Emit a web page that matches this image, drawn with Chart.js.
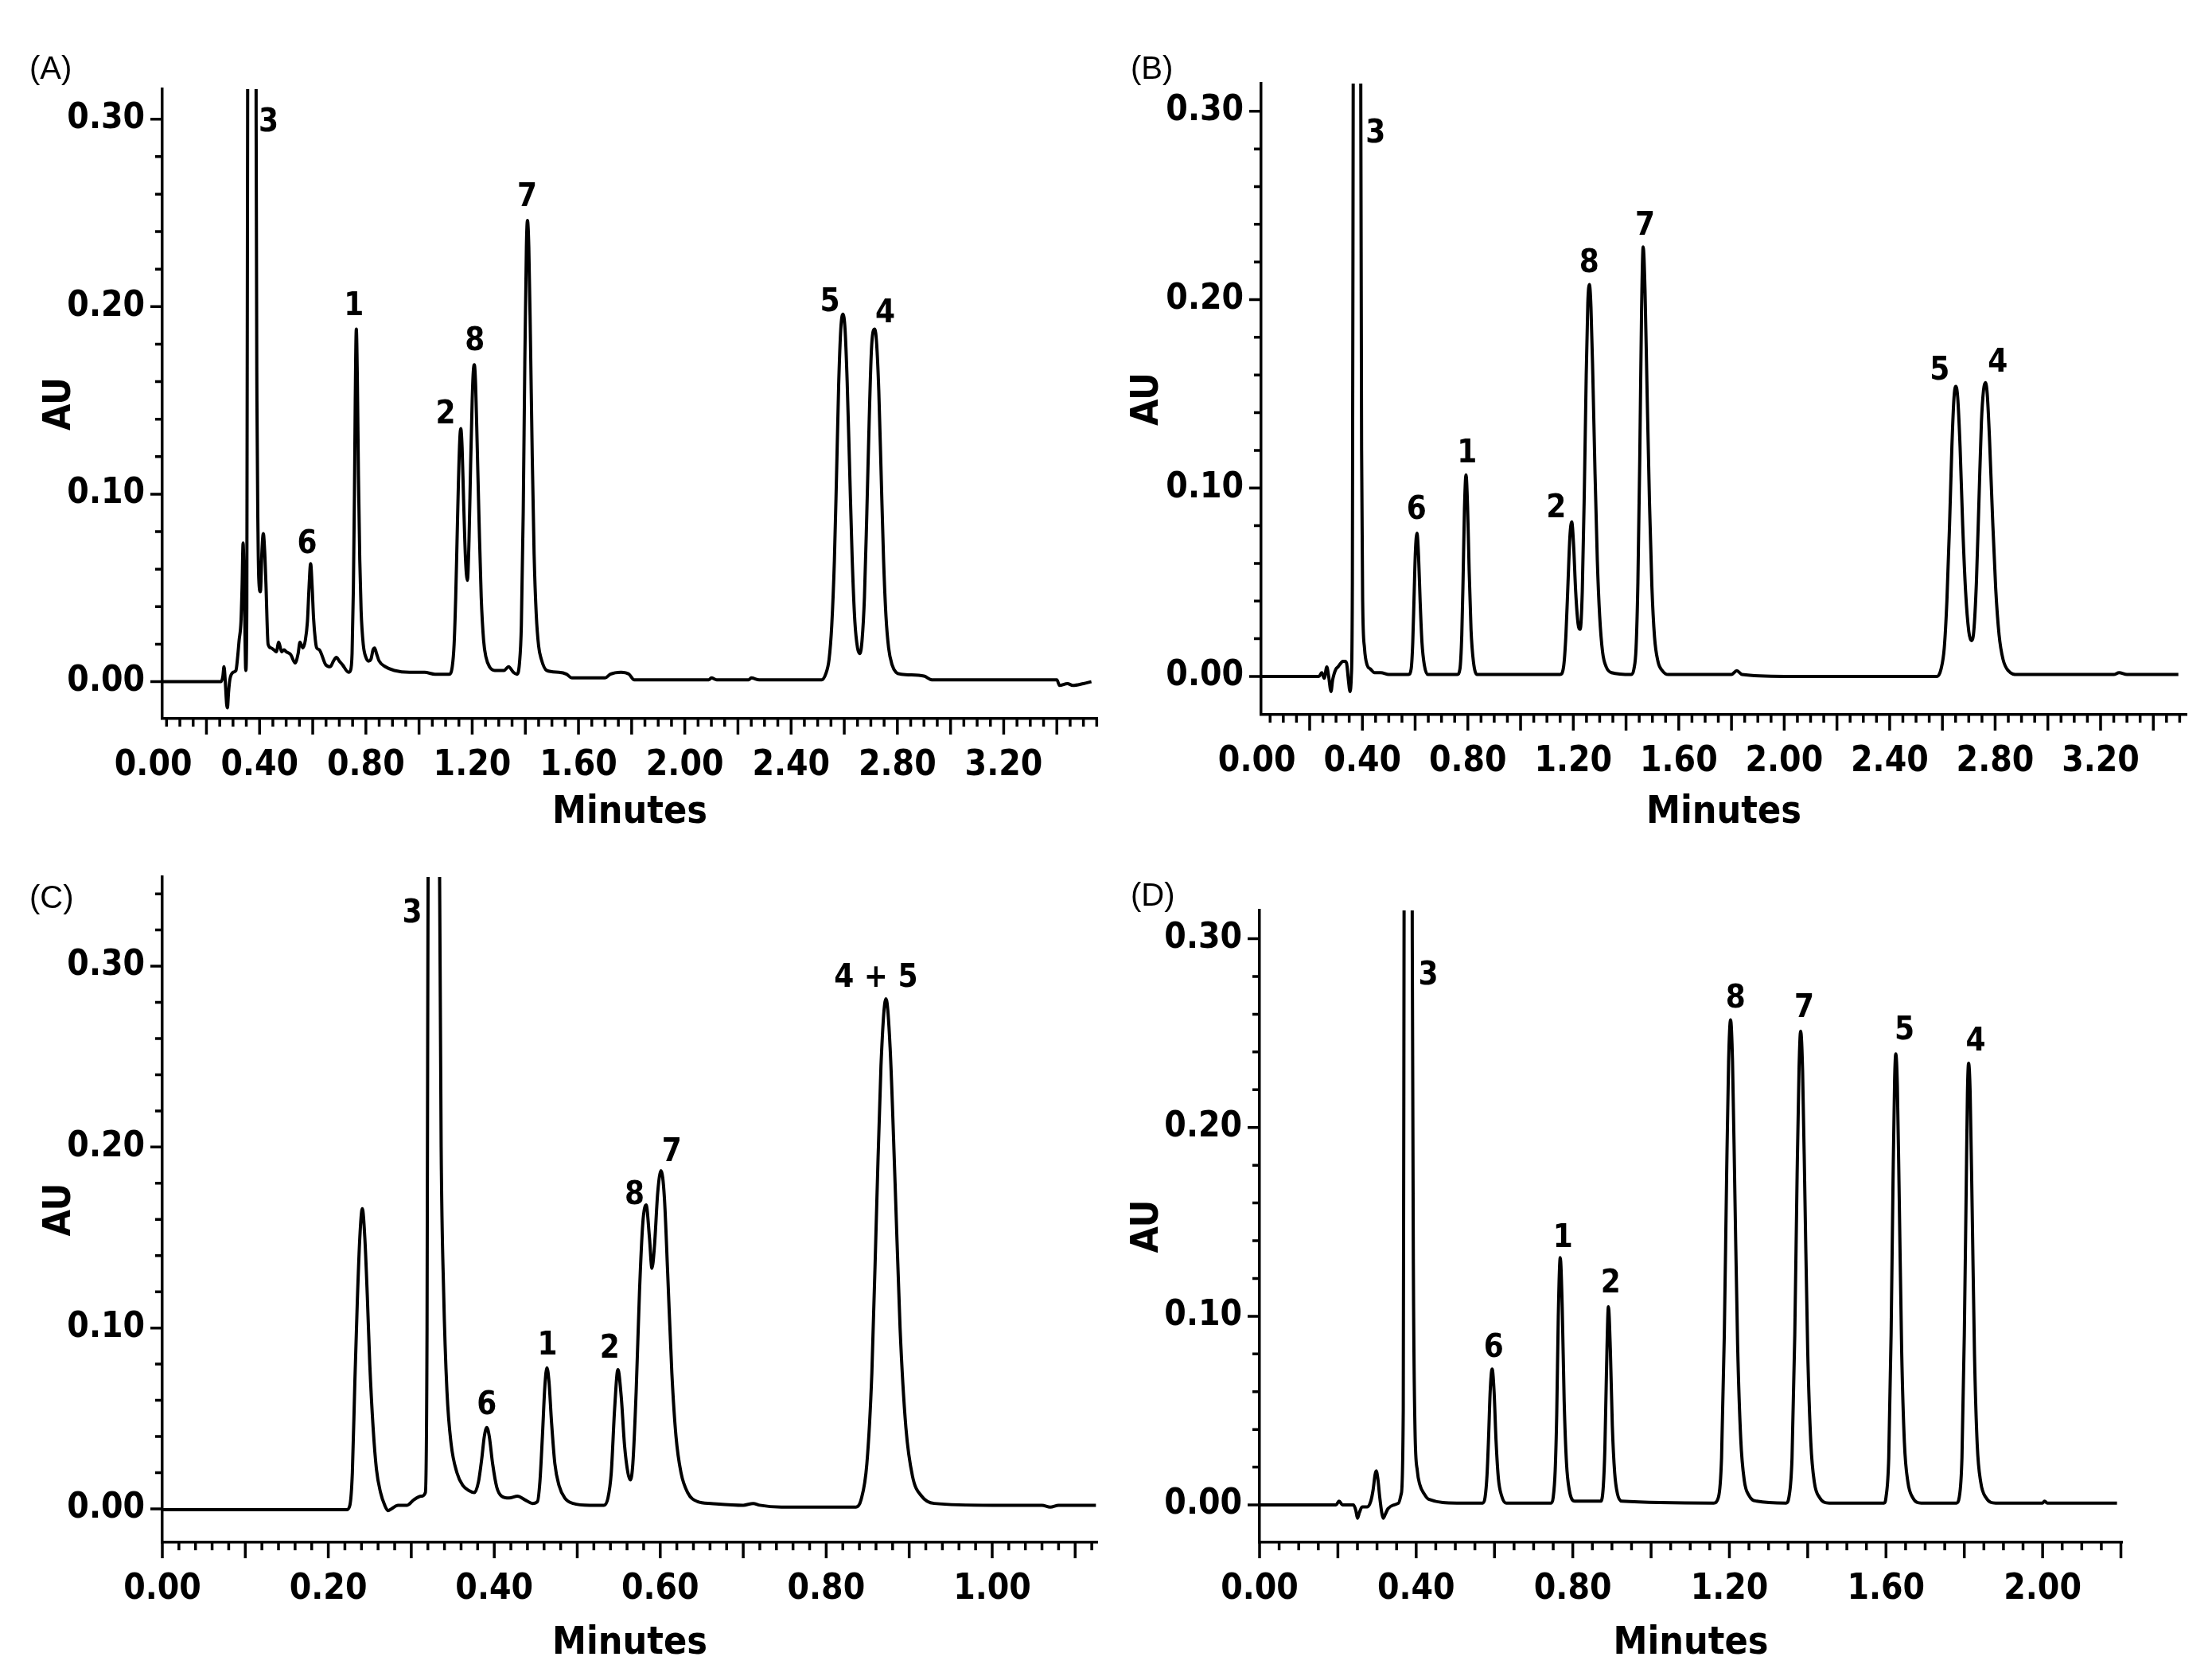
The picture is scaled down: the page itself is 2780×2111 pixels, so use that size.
<!DOCTYPE html>
<html lang="en">
<head>
<meta charset="utf-8">
<title>Chromatograms (A)-(D)</title>
<script src="https://cdn.jsdelivr.net/npm/chart.js@4"></script>
<style>
  html, body { margin: 0; padding: 0; background: #fff; }
  body { width: 2780px; height: 2111px; position: relative; overflow: hidden; }
  .panel { position: absolute; }
  .tag { position: absolute; font: 40px "Liberation Sans", Arial, sans-serif; line-height: 1; color: #000; }
</style>
</head>
<body>
<div class="panel" style="left:0;top:0;width:1390px;height:1060px"><canvas id="chartA"></canvas></div>
<div class="panel" style="left:1390px;top:0;width:1390px;height:1060px"><canvas id="chartB"></canvas></div>
<div class="panel" style="left:0;top:1060px;width:1390px;height:1051px"><canvas id="chartC"></canvas></div>
<div class="panel" style="left:1390px;top:1060px;width:1390px;height:1051px"><canvas id="chartD"></canvas></div>
<div class="tag" style="left:37px;top:65px">(A)</div>
<div class="tag" style="left:1421px;top:65px">(B)</div>
<div class="tag" style="left:37px;top:1107px">(C)</div>
<div class="tag" style="left:1421px;top:1104px">(D)</div>
<script>
// traced chromatograms: retention time (min) and absorbance (AU)
const timeA = [
  0.034, 0.255, 0.262, 0.266, 0.271, 0.276, 0.279, 0.283, 0.288, 0.300,
  0.311, 0.318, 0.323, 0.330, 0.334, 0.338, 0.341, 0.344, 0.348, 0.352,
  0.355, 0.357, 0.371, 0.385, 0.387, 0.390, 0.394, 0.397, 0.403, 0.409,
  0.414, 0.419, 0.424, 0.432, 0.443, 0.454, 0.463, 0.472, 0.483, 0.492,
  0.500, 0.517, 0.534, 0.545, 0.552, 0.563, 0.572, 0.580, 0.586, 0.592,
  0.598, 0.603, 0.610, 0.615, 0.625, 0.632, 0.649, 0.666, 0.678, 0.689,
  0.700, 0.712, 0.735, 0.742, 0.748, 0.753, 0.757, 0.760, 0.764, 0.768,
  0.772, 0.777, 0.782, 0.790, 0.800, 0.810, 0.819, 0.827, 0.833, 0.840,
  0.850, 0.873, 0.907, 0.964, 1.021, 1.060, 1.113, 1.125, 1.132, 1.138,
  1.143, 1.148, 1.153, 1.157, 1.162, 1.168, 1.175, 1.182, 1.188, 1.194,
  1.200, 1.204, 1.208, 1.213, 1.219, 1.226, 1.234, 1.243, 1.252, 1.265,
  1.285, 1.320, 1.337, 1.355, 1.368, 1.378, 1.385, 1.392, 1.398, 1.404,
  1.408, 1.413, 1.419, 1.426, 1.433, 1.441, 1.450, 1.460, 1.480, 1.526,
  1.555, 1.575, 1.700, 1.720, 1.760, 1.790, 1.810, 2.090, 2.100, 2.120,
  2.240, 2.250, 2.280, 2.515, 2.530, 2.543, 2.553, 2.563, 2.571, 2.579,
  2.587, 2.595, 2.603, 2.611, 2.620, 2.630, 2.640, 2.650, 2.659, 2.667,
  2.676, 2.685, 2.694, 2.702, 2.709, 2.715, 2.722, 2.730, 2.739, 2.748,
  2.757, 2.767, 2.780, 2.795, 2.815, 2.900, 2.930, 3.400, 3.410, 3.440,
  3.460, 3.500, 3.530
];
const auA = [
  0, 0, 0.003, 0.008, 0, -0.012, -0.014, -0.006, 0.001, 0.005,
  0.006, 0.014, 0.022, 0.032, 0.050, 0.074, 0.060, 0.035, 0.006, 0.040,
  0.300, 0.600, 0.900, 0.600, 0.300, 0.150, 0.080, 0.055, 0.048, 0.070,
  0.079, 0.070, 0.052, 0.020, 0.018, 0.017, 0.016, 0.021, 0.016, 0.017,
  0.016, 0.0145, 0.010, 0.015, 0.021, 0.018, 0.022, 0.032, 0.050, 0.063,
  0.050, 0.034, 0.022, 0.018, 0.017, 0.015, 0.009, 0.008, 0.011, 0.013,
  0.011, 0.009, 0.005, 0.006, 0.015, 0.050, 0.100, 0.150, 0.188, 0.160,
  0.110, 0.065, 0.038, 0.020, 0.013, 0.011, 0.012, 0.017, 0.018, 0.015,
  0.011, 0.008, 0.006, 0.005, 0.005, 0.004, 0.004, 0.008, 0.020, 0.045,
  0.075, 0.105, 0.128, 0.135, 0.125, 0.095, 0.065, 0.054, 0.075, 0.115,
  0.150, 0.165, 0.169, 0.158, 0.125, 0.085, 0.045, 0.022, 0.013, 0.008,
  0.006, 0.006, 0.008, 0.005, 0.004, 0.010, 0.030, 0.090, 0.170, 0.232,
  0.246, 0.232, 0.185, 0.120, 0.068, 0.036, 0.019, 0.012, 0.006, 0.005,
  0.004, 0.002, 0.002, 0.004, 0.005, 0.004, 0.001, 0.001, 0.002, 0.001,
  0.001, 0.002, 0.001, 0.001, 0.004, 0.012, 0.030, 0.065, 0.110, 0.158,
  0.188, 0.196, 0.188, 0.160, 0.115, 0.065, 0.032, 0.018, 0.015, 0.022,
  0.045, 0.090, 0.140, 0.176, 0.187, 0.188, 0.180, 0.155, 0.110, 0.065,
  0.035, 0.018, 0.009, 0.005, 0.004, 0.003, 0.001, 0.001, -0.002, -0.001,
  -0.002, -0.001, 0
];

const timeB = [
  0.016, 0.235, 0.246, 0.255, 0.265, 0.272, 0.281, 0.287, 0.292, 0.300,
  0.307, 0.318, 0.326, 0.334, 0.340, 0.347, 0.353, 0.358, 0.362, 0.365,
  0.368, 0.380, 0.391, 0.394, 0.397, 0.401, 0.408, 0.418, 0.430, 0.446,
  0.470, 0.500, 0.575, 0.585, 0.591, 0.596, 0.601, 0.607, 0.613, 0.619,
  0.626, 0.635, 0.648, 0.760, 0.770, 0.777, 0.782, 0.787, 0.793, 0.799,
  0.805, 0.812, 0.821, 0.835, 1.150, 1.163, 1.172, 1.180, 1.187, 1.194,
  1.201, 1.209, 1.218, 1.226, 1.234, 1.242, 1.249, 1.255, 1.261, 1.267,
  1.274, 1.282, 1.291, 1.300, 1.311, 1.325, 1.345, 1.420, 1.430, 1.438,
  1.445, 1.452, 1.459, 1.465, 1.472, 1.480, 1.489, 1.498, 1.508, 1.521,
  1.538, 1.560, 1.800, 1.820, 1.840, 2.000, 2.580, 2.595, 2.607, 2.617,
  2.627, 2.636, 2.644, 2.651, 2.658, 2.667, 2.677, 2.688, 2.700, 2.710,
  2.719, 2.729, 2.739, 2.748, 2.756, 2.763, 2.770, 2.779, 2.790, 2.802,
  2.815, 2.830, 2.850, 2.885, 3.250, 3.270, 3.300, 3.495
];
const auB = [
  0, 0, 0.002, -0.001, 0.005, 0, -0.008, -0.002, 0.001, 0.004,
  0.005, 0.007, 0.008, 0.008, 0.007, -0.002, -0.008, 0, 0.050, 0.300,
  0.600, 0.900, 0.600, 0.300, 0.120, 0.040, 0.015, 0.006, 0.004, 0.002,
  0.002, 0.001, 0.001, 0.004, 0.018, 0.042, 0.066, 0.076, 0.064, 0.040,
  0.018, 0.006, 0.001, 0.001, 0.004, 0.022, 0.052, 0.088, 0.107, 0.090,
  0.056, 0.025, 0.008, 0.001, 0.001, 0.005, 0.022, 0.050, 0.074, 0.082,
  0.070, 0.045, 0.028, 0.025, 0.045, 0.100, 0.160, 0.198, 0.208, 0.196,
  0.160, 0.110, 0.062, 0.032, 0.013, 0.005, 0.002, 0.001, 0.004, 0.015,
  0.050, 0.115, 0.195, 0.228, 0.205, 0.150, 0.092, 0.048, 0.021, 0.008,
  0.003, 0.001, 0.001, 0.003, 0.001, 0, 0, 0.004, 0.015, 0.040,
  0.080, 0.122, 0.148, 0.154, 0.148, 0.122, 0.080, 0.045, 0.024, 0.019,
  0.024, 0.050, 0.095, 0.135, 0.152, 0.156, 0.150, 0.125, 0.085, 0.047,
  0.022, 0.009, 0.003, 0.001, 0.001, 0.002, 0.001, 0.001
];

const timeC = [
  0, 0.222, 0.226, 0.229, 0.232, 0.235, 0.238, 0.241, 0.244, 0.247,
  0.250, 0.254, 0.258, 0.263, 0.268, 0.272, 0.276, 0.284, 0.295, 0.303,
  0.312, 0.317, 0.319, 0.3205, 0.327, 0.3335, 0.336, 0.339, 0.343, 0.348,
  0.355, 0.362, 0.370, 0.376, 0.381, 0.385, 0.388, 0.391, 0.394, 0.398,
  0.403, 0.409, 0.418, 0.428, 0.437, 0.446, 0.452, 0.455, 0.458, 0.461,
  0.4635, 0.466, 0.469, 0.473, 0.478, 0.485, 0.495, 0.515, 0.532, 0.537,
  0.541, 0.545, 0.549, 0.553, 0.557, 0.561, 0.564, 0.567, 0.571, 0.575,
  0.579, 0.583, 0.587, 0.590, 0.593, 0.597, 0.601, 0.605, 0.609, 0.614,
  0.619, 0.625, 0.633, 0.645, 0.661, 0.700, 0.712, 0.720, 0.746, 0.836,
  0.842, 0.849, 0.855, 0.861, 0.866, 0.872, 0.877, 0.883, 0.889, 0.896,
  0.904, 0.915, 0.930, 1.000, 1.060, 1.070, 1.080, 1.125
];
const auC = [
  -0.0005, -0.0005, 0.002, 0.020, 0.070, 0.115, 0.150, 0.166, 0.150, 0.118,
  0.080, 0.045, 0.022, 0.009, 0.002, -0.001, 0, 0.002, 0.002, 0.005,
  0.007, 0.009, 0.100, 0.400, 0.600, 0.400, 0.200, 0.120, 0.065, 0.036,
  0.020, 0.013, 0.010, 0.009, 0.015, 0.028, 0.040, 0.045, 0.040, 0.025,
  0.012, 0.007, 0.006, 0.007, 0.005, 0.003, 0.004, 0.015, 0.040, 0.068,
  0.078, 0.070, 0.048, 0.025, 0.013, 0.006, 0.003, 0.002, 0.002, 0.006,
  0.020, 0.055, 0.077, 0.062, 0.035, 0.020, 0.016, 0.025, 0.065, 0.120,
  0.158, 0.168, 0.150, 0.133, 0.145, 0.175, 0.187, 0.172, 0.130, 0.075,
  0.040, 0.020, 0.009, 0.004, 0.003, 0.002, 0.003, 0.002, 0.001, 0.001,
  0.005, 0.025, 0.075, 0.170, 0.245, 0.282, 0.255, 0.180, 0.100, 0.045,
  0.018, 0.007, 0.003, 0.002, 0.002, 0.001, 0.002, 0.002
];

const timeD = [
  0, 0.195, 0.203, 0.212, 0.240, 0.246, 0.250, 0.255, 0.262, 0.275,
  0.284, 0.290, 0.295, 0.298, 0.302, 0.307, 0.312, 0.316, 0.321, 0.328,
  0.343, 0.355, 0.362, 0.367, 0.369, 0.371, 0.380, 0.388, 0.390, 0.393,
  0.397, 0.403, 0.409, 0.420, 0.432, 0.504, 0.570, 0.576, 0.581, 0.585,
  0.589, 0.594, 0.599, 0.604, 0.610, 0.618, 0.630, 0.745, 0.750, 0.755,
  0.759, 0.763, 0.768, 0.773, 0.778, 0.784, 0.791, 0.805, 0.872, 0.878,
  0.882, 0.886, 0.891, 0.896, 0.901, 0.907, 0.914, 0.925, 1.160, 1.172,
  1.180, 1.187, 1.193, 1.198, 1.203, 1.208, 1.214, 1.221, 1.229, 1.238,
  1.250, 1.270, 1.345, 1.352, 1.360, 1.367, 1.373, 1.378, 1.382, 1.387,
  1.393, 1.400, 1.408, 1.417, 1.430, 1.455, 1.595, 1.600, 1.607, 1.613,
  1.618, 1.622, 1.625, 1.629, 1.634, 1.640, 1.647, 1.656, 1.668, 1.690,
  1.780, 1.787, 1.794, 1.800, 1.805, 1.808, 1.811, 1.815, 1.820, 1.826,
  1.833, 1.842, 1.855, 1.880, 2.000, 2.005, 2.012, 2.190
];
const auD = [
  0, 0, 0.002, 0, 0, -0.003, -0.007, -0.004, -0.001, -0.001,
  0.002, 0.008, 0.016, 0.018, 0.014, 0.004, -0.004, -0.007, -0.005, -0.002,
  0, 0.001, 0.006, 0.050, 0.300, 0.600, 0.900, 0.600, 0.300, 0.120,
  0.040, 0.018, 0.011, 0.006, 0.003, 0.001, 0.001, 0.004, 0.016, 0.036,
  0.060, 0.072, 0.060, 0.034, 0.014, 0.005, 0.001, 0.001, 0.004, 0.018,
  0.048, 0.100, 0.131, 0.105, 0.055, 0.022, 0.008, 0.002, 0.002, 0.010,
  0.030, 0.070, 0.105, 0.082, 0.042, 0.017, 0.006, 0.002, 0.001, 0.004,
  0.025, 0.090, 0.175, 0.235, 0.257, 0.235, 0.165, 0.085, 0.035, 0.013,
  0.005, 0.002, 0.001, 0.004, 0.025, 0.090, 0.175, 0.232, 0.251, 0.230,
  0.162, 0.082, 0.033, 0.012, 0.004, 0.001, 0.001, 0.004, 0.025, 0.090,
  0.172, 0.225, 0.239, 0.222, 0.160, 0.082, 0.033, 0.012, 0.004, 0.001,
  0.001, 0.004, 0.025, 0.090, 0.170, 0.218, 0.234, 0.218, 0.158, 0.080,
  0.032, 0.012, 0.004, 0.001, 0.001, 0.002, 0.001, 0.001
];

// peak numbers and where they sit (time, AU)
const peakNamesA = ['3', '6', '1', '2', '8', '7', '5', '4'];
const peakTimeA  = [0.434, 0.579, 0.755, 1.100, 1.210, 1.407, 2.546, 2.754];
const peakAuA    = [0.298, 0.073, 0.200, 0.142, 0.181, 0.258, 0.202, 0.196];
const peakNamesB = ['3', '6', '1', '2', '8', '7', '5', '4'];
const peakTimeB  = [0.450, 0.605, 0.797, 1.135, 1.260, 1.472, 2.590, 2.810];
const peakAuB    = [0.288, 0.088, 0.118, 0.089, 0.219, 0.239, 0.162, 0.166];
const peakNamesC = ['3', '6', '1', '2', '8', '7', '4 + 5'];
const peakTimeC  = [0.301, 0.391, 0.464, 0.539, 0.569, 0.614, 0.860];
const peakAuC    = [0.329, 0.057, 0.090, 0.088, 0.173, 0.197, 0.293];
const peakNamesD = ['3', '6', '1', '2', '8', '7', '5', '4'];
const peakTimeD  = [0.431, 0.598, 0.775, 0.897, 1.216, 1.391, 1.647, 1.829];
const peakAuD    = [0.280, 0.083, 0.141, 0.117, 0.268, 0.263, 0.251, 0.245];

// axis tick labels
const minuteTicksAB = [0, 0.4, 0.8, 1.2, 1.6, 2.0, 2.4, 2.8, 3.2];
const minuteTicksC  = [0, 0.2, 0.4, 0.6, 0.8, 1.0];
const minuteTicksD  = [0, 0.4, 0.8, 1.2, 1.6, 2.0];
const auTicks       = [0, 0.1, 0.2, 0.3];

const FONT = '"Liberation Sans Narrow", "DejaVu Sans Condensed", "Liberation Sans", Arial, sans-serif';

// two lengths of tick mark, drawn along the library's scales
const tickMarks = {
  id: 'tickMarks',
  afterDraw(chart, args, o) {
    const { ctx, scales: { x, y } } = chart;
    ctx.save();
    ctx.strokeStyle = '#000';
    ctx.lineWidth = 3.5;
    ctx.beginPath();
    for (let i = 0; i * o.xMinor <= x.max + 1e-9; i++) {
      const v = i * o.xMinor;
      if (v < x.min - 1e-9) continue;
      const px = x.getPixelForValue(v);
      ctx.moveTo(px, x.top);
      ctx.lineTo(px, x.top + (i % o.xEvery === 0 ? 20 : 10));
    }
    for (let i = 0; i * 0.02 <= y.max + 1e-9; i++) {
      const py = y.getPixelForValue(i * 0.02);
      ctx.moveTo(y.right, py);
      ctx.lineTo(y.right - (i % 5 === 0 ? 15 : 9), py);
    }
    ctx.stroke();
    ctx.restore();
  }
};

const peakNames = {
  id: 'peakNames',
  afterDatasetsDraw(chart, args, o) {
    const { ctx, scales: { x, y } } = chart;
    ctx.save();
    ctx.font = 'bold 40px ' + FONT;
    ctx.fillStyle = '#000';
    ctx.textAlign = 'center';
    ctx.textBaseline = 'middle';
    o.names.forEach((n, i) => {
      ctx.fillText(n, x.getPixelForValue(o.time[i]), y.getPixelForValue(o.au[i]));
    });
    ctx.restore();
  }
};

function makeChart(id, p) {
  return new Chart(document.getElementById(id), {
    type: 'line',
    data: {
      datasets: [{
        data: p.time.map((t, i) => ({ x: t, y: p.au[i] })),
        borderColor: '#000',
        borderWidth: 4,
        pointRadius: 0,
        fill: false,
        cubicInterpolationMode: 'monotone'
      }]
    },
    options: {
      responsive: true,
      maintainAspectRatio: false,
      animation: false,
      events: [],
      layout: { padding: { left: 0, top: p.top, right: p.right, bottom: 0 } },
      plugins: {
        legend: { display: false },
        tooltip: { enabled: false },
        tickMarks: { xMinor: p.xMinor, xEvery: p.xEvery },
        peakNames: { names: p.names, time: p.peakTime, au: p.peakAu }
      },
      scales: {
        x: {
          type: 'linear',
          min: p.xMin,
          max: p.xMax,
          afterFit: (s) => { s.height = p.xH; },
          afterBuildTicks: (s) => { s.ticks = p.xTicks.map(v => ({ value: v })); },
          ticks: {
            autoSkip: false, maxRotation: 0, padding: 14, color: '#000',
            font: { family: FONT, size: 44, weight: 'bold' },
            callback: (v) => Number(v).toFixed(2)
          },
          grid: { drawOnChartArea: false, color: 'rgba(0,0,0,0)', tickLength: 19 },
          border: { display: true, color: '#000', width: 3.5 },
          title: {
            display: true, text: 'Minutes', color: '#000',
            font: { family: FONT, size: 48, weight: 'bold' },
            padding: { top: 0, bottom: p.minPad }
          }
        },
        y: {
          type: 'linear',
          min: p.yMin,
          max: p.yMax,
          afterFit: (s) => { s.width = p.yW; },
          afterBuildTicks: (s) => { s.ticks = auTicks.map(v => ({ value: v })); },
          ticks: {
            autoSkip: false, padding: 7, color: '#000',
            font: { family: FONT, size: 44, weight: 'bold' },
            callback: (v) => Number(v).toFixed(2)
          },
          grid: { drawOnChartArea: false, color: 'rgba(0,0,0,0)', tickLength: 15 },
          border: { display: true, color: '#000', width: 3.5 },
          title: {
            display: true, text: 'AU', color: '#000',
            font: { family: FONT, size: 48, weight: 'bold' },
            padding: { top: p.auPad, bottom: 0 }
          }
        }
      }
    },
    plugins: [tickMarks, peakNames]
  });
}

makeChart('chartA', {
  time: timeA, au: auA, names: peakNamesA, peakTime: peakTimeA, peakAu: peakAuA,
  xTicks: minuteTicksAB, xMin: 0.034, xMax: 3.552, yMin: -0.0197, yMax: 0.316,
  xMinor: 0.05, xEvery: 4, top: 112, right: 11, xH: 157, yW: 204, minPad: 10, auPad: 47
});
makeChart('chartB', {
  time: timeB, au: auB, names: peakNamesB, peakTime: peakTimeB, peakAu: peakAuB,
  xTicks: minuteTicksAB, xMin: 0.016, xMax: 3.526, yMin: -0.0203, yMax: 0.3147,
  xMinor: 0.05, xEvery: 4, top: 105, right: 32, xH: 162, yW: 195, minPad: 10, auPad: 24
});
makeChart('chartC', {
  time: timeC, au: auC, names: peakNamesC, peakTime: peakTimeC, peakAu: peakAuC,
  xTicks: minuteTicksC, xMin: 0, xMax: 1.1266, yMin: -0.0185, yMax: 0.3493,
  xMinor: 0.02, xEvery: 5, top: 42, right: 11, xH: 173, yW: 204, minPad: 17, auPad: 47
});
makeChart('chartD', {
  time: timeD, au: auD, names: peakNamesD, peakTime: peakTimeD, peakAu: peakAuD,
  xTicks: minuteTicksD, xMin: 0, xMax: 2.203, yMin: -0.0198, yMax: 0.315,
  xMinor: 0.05, xEvery: 4, top: 84, right: 113, xH: 173, yW: 193, minPad: 17, auPad: 24
});
</script>
</body>
</html>
